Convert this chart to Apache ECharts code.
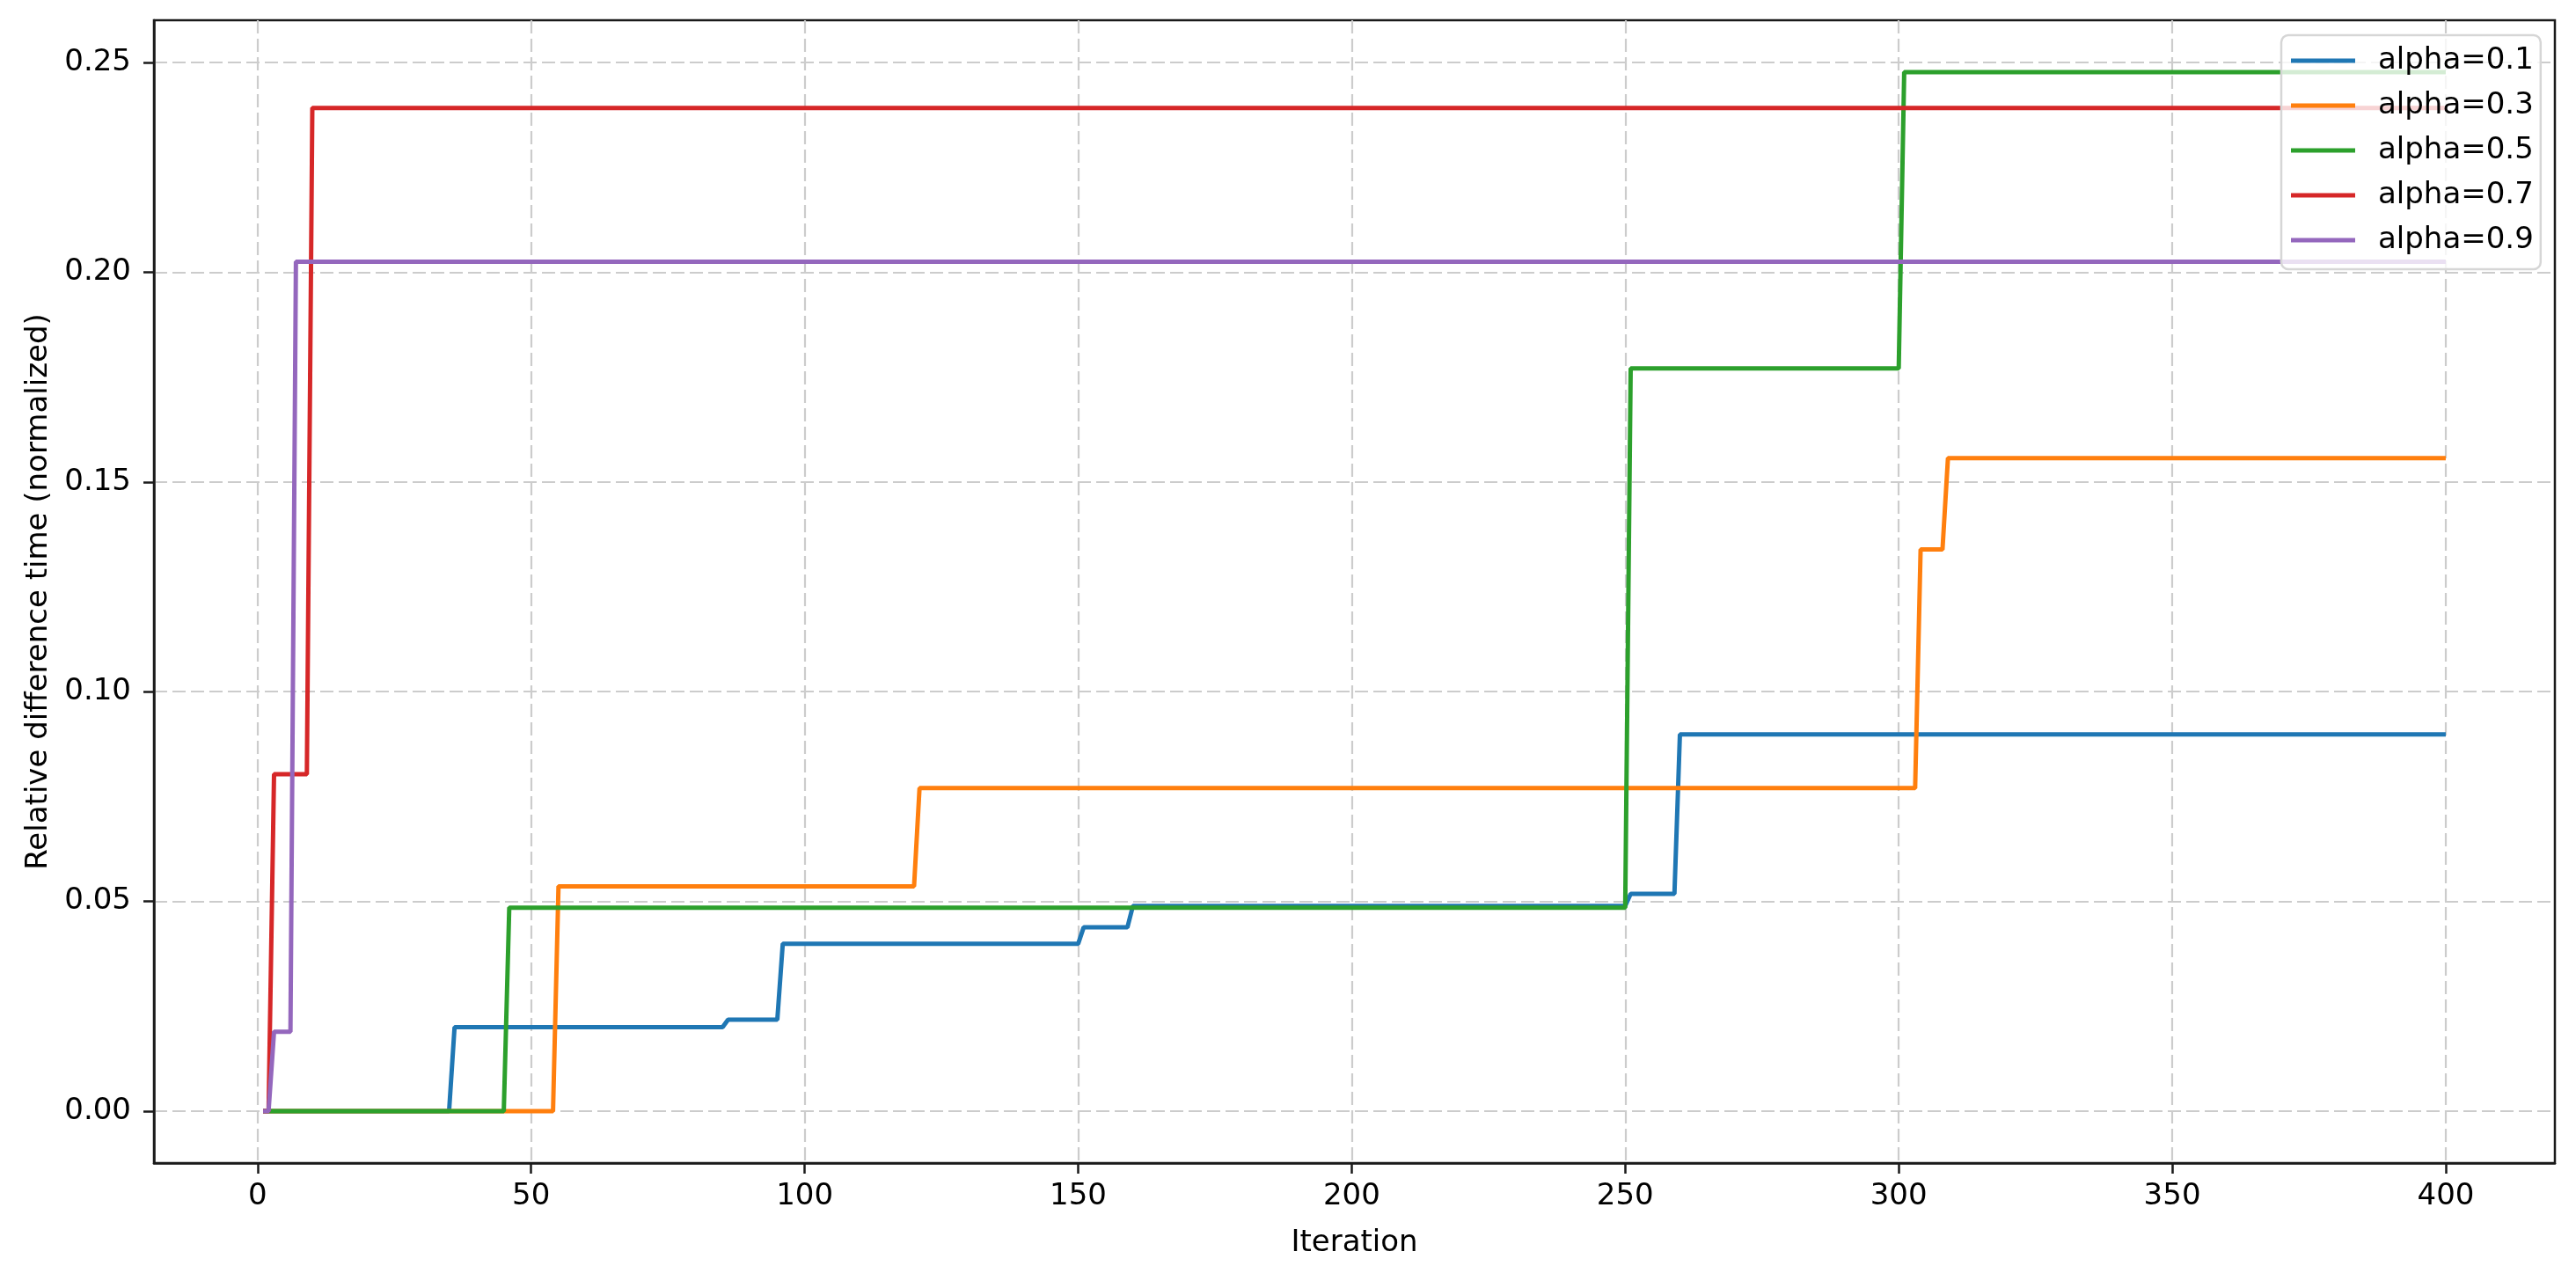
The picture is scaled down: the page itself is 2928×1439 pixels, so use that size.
<!DOCTYPE html>
<html>
<head>
<meta charset="utf-8">
<script src="https://cdn.jsdelivr.net/npm/echarts@6/dist/echarts.min.js"></script>
<style>
html,body{margin:0;padding:0;background:#fff;}
#chart{width:2928px;height:1439px;}
</style>
</head>
<body>
<div id="chart"></div>
<script>
// ---- data (iteration, value) breakpoints ----
const seriesNames = ['alpha=0.1', 'alpha=0.3', 'alpha=0.5', 'alpha=0.7', 'alpha=0.9'];
const alpha01 = [[1,0],[35,0],[36,0.0200],[85,0.0200],[86,0.0218],[95,0.0218],[96,0.0399],[150,0.0399],[151,0.0438],[159,0.0438],[160,0.0489],[250,0.0489],[251,0.0518],[259,0.0518],[260,0.0898],[400,0.0898]];
const alpha03 = [[1,0],[54,0],[55,0.0536],[120,0.0536],[121,0.0770],[303,0.0770],[304,0.1339],[308,0.1339],[309,0.1557],[400,0.1557]];
const alpha05 = [[1,0],[45,0],[46,0.0485],[250,0.0485],[251,0.1771],[300,0.1771],[301,0.2477],[400,0.2477]];
const alpha07 = [[1,0],[2,0],[3,0.0803],[9,0.0803],[10,0.2392],[400,0.2392]];
const alpha09 = [[1,0],[2,0],[3,0.0189],[6,0.0189],[7,0.2025],[400,0.2025]];
const xTicks = [0, 50, 100, 150, 200, 250, 300, 350, 400];
const yTicks = [0, 0.05, 0.10, 0.15, 0.20, 0.25];

const colors = ['#1f77b4', '#ff7f0e', '#2ca02c', '#d62728', '#9467bd'];
const allData = [alpha01, alpha03, alpha05, alpha07, alpha09];
const FONT = 'DejaVu Sans';

const chart = echarts.init(document.getElementById('chart'), null, {renderer: 'canvas'});
const gridLine = {show: true, lineStyle: {color: '#cccccc', width: 2.2, type: [15, 6]}};
const option = {
  animation: false,
  backgroundColor: '#ffffff',
  grid: {left: 175, right: 24, top: 23, bottom: 117, show: true, borderColor: '#1a1a1a', borderWidth: 2.5, backgroundColor: 'transparent'},
  xAxis: {
    type: 'value', min: -18.95, max: 419.95,
    name: 'Iteration', nameLocation: 'middle', nameGap: 74,
    nameTextStyle: {fontFamily: FONT, fontSize: 34, color: '#000'},
    axisLine: {show: true, onZero: false, lineStyle: {color: '#1a1a1a', width: 2.5}},
    axisTick: {show: true, customValues: xTicks, length: 12, lineStyle: {color: '#1a1a1a', width: 2.5}},
    axisLabel: {customValues: xTicks, fontFamily: FONT, fontSize: 34, color: '#000', margin: 21},
    splitLine: gridLine
  },
  yAxis: {
    type: 'value', min: -0.0124, max: 0.2601,
    name: 'Relative difference time (normalized)', nameLocation: 'middle', nameGap: 114,
    nameTextStyle: {fontFamily: FONT, fontSize: 34, color: '#000'},
    axisLine: {show: true, onZero: false, lineStyle: {color: '#1a1a1a', width: 2.5}},
    axisTick: {show: true, customValues: yTicks, length: 12, lineStyle: {color: '#1a1a1a', width: 2.5}},
    axisLabel: {customValues: yTicks, fontFamily: FONT, fontSize: 34, color: '#000', margin: 26,
      formatter: v => v.toFixed(2)},
    splitLine: gridLine
  },
  legend: {
    orient: 'vertical', left: 2593, top: 40,
    data: seriesNames,
    icon: 'rect', itemWidth: 73, itemHeight: 5, itemGap: 17,
    padding: [12, 8, 16, 11],
    backgroundColor: 'rgba(255,255,255,0.8)', borderColor: '#d6d6d6', borderWidth: 2.5, borderRadius: 8,
    textStyle: {fontFamily: FONT, fontSize: 34, color: '#000', lineHeight: 33, padding: [0, 0, 0, 21]}
  },
  series: seriesNames.map((n, i) => ({
    name: n, type: 'line', data: allData[i], symbol: 'none', smooth: false,
    color: colors[i],
    lineStyle: {color: colors[i], width: 5},
    clip: true
  }))
};
chart.setOption(option);
</script>
</body>
</html>
